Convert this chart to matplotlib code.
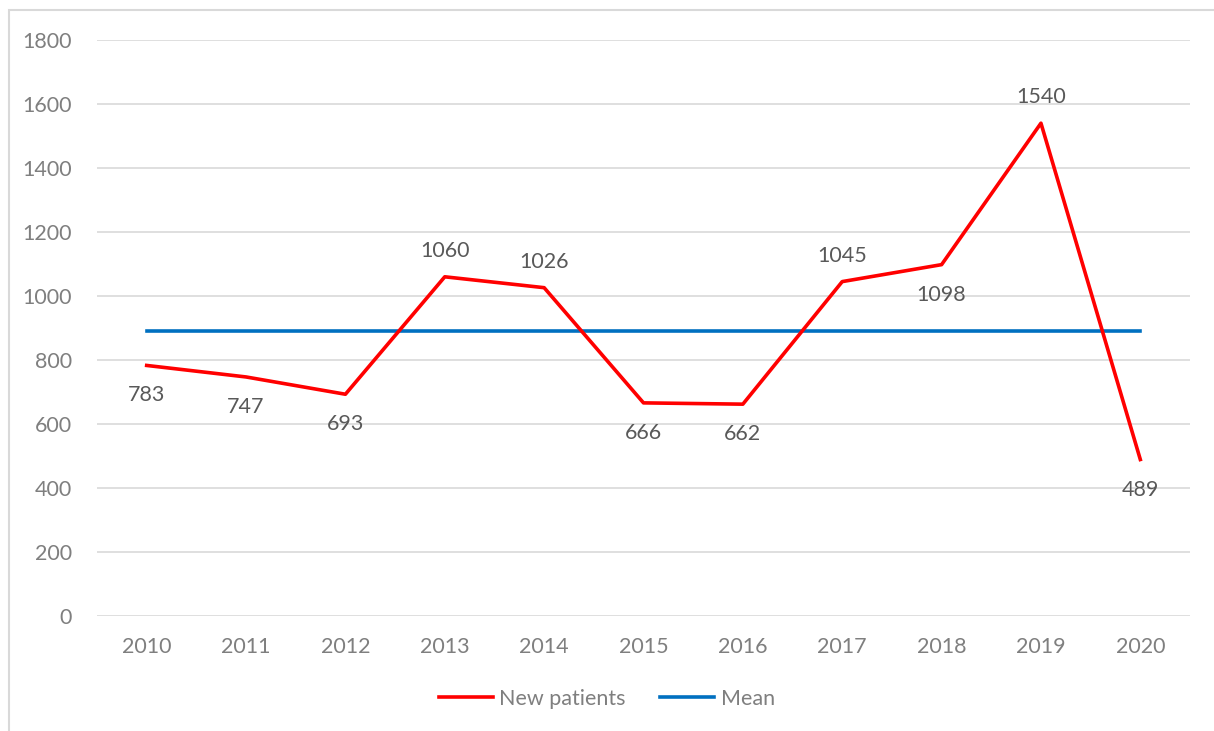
import matplotlib.pyplot as plt
import matplotlib.patches as mpatches

years = ['2010', '2011', '2012', '2013', '2014', '2015', '2016', '2017', '2018', '2019', '2020']
new_patients = [783, 747, 693, 1060, 1026, 666, 662, 1045, 1098, 1540, 489]
mean_value = [892] * len(years)
# where Excel put each data label: above (+1) or below (-1) the point
label_side = [-1, -1, -1, 1, 1, -1, -1, 1, -1, 1, -1]
y_ticks = [0, 200, 400, 600, 800, 1000, 1200, 1400, 1600, 1800]

plt.rcParams['font.family'] = ['Lato', 'DejaVu Sans']
FS = 15.5

fig = plt.figure(figsize=(12.14, 7.31), dpi=100)
W, H = 1214, 731
ax = fig.add_axes([97 / W, 1 - 616 / H, (1190 - 97) / W, (616 - 40) / H])

# light gray chart frame
fig.patches.append(mpatches.Rectangle((9 / W, -0.05), 1.1, 1 - 10 / H + 0.05,
                                      transform=fig.transFigure, fill=False,
                                      edgecolor='#d9d9d9', linewidth=1.5))

x = list(range(len(years)))
ax.plot(x, new_patients, color='#ff0000', linewidth=2.6, label='New patients', zorder=3)
ax.plot(x, mean_value, color='#0070c0', linewidth=2.6, label='Mean', zorder=2)

for xi, v, s in zip(x, new_patients, label_side):
    off = 26 if s > 0 else -30
    ax.annotate(str(v), (xi, v), xytext=(0, off), textcoords='offset pixels',
                ha='center', va='center', fontsize=FS, color='#595959')

ax.set_xlim(-0.5, len(years) - 0.5)
ax.set_ylim(0, 1800)
ax.set_xticks(x)
ax.set_xticklabels(years)
ax.set_yticks(y_ticks)
ax.tick_params(axis='both', length=0, labelsize=FS, labelcolor='#7f7f7f')
ax.tick_params(axis='x', pad=15)
ax.tick_params(axis='y', pad=18)
ax.grid(axis='y', color='#d9d9d9', linewidth=1.2)
ax.set_axisbelow(True)
for sp in ax.spines.values():
    sp.set_visible(False)

leg = fig.legend(loc='center', bbox_to_anchor=(0.5, 1 - 699 / H), ncol=2, frameon=False,
                 fontsize=FS, handlelength=2.5, handletextpad=0.3, columnspacing=1.6)
for t in leg.get_texts():
    t.set_color('#7f7f7f')

fig.savefig('out.png', dpi=100)
